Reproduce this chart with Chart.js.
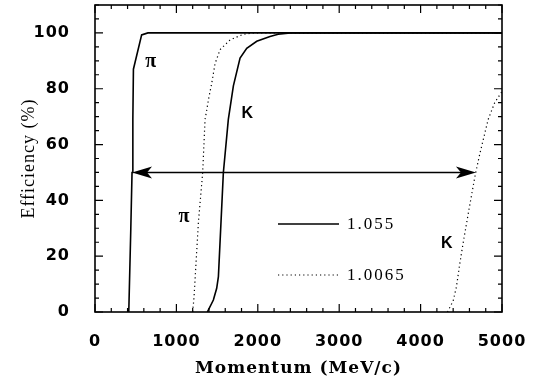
<!DOCTYPE html>
<html><head><meta charset="utf-8">
<script src="https://cdn.jsdelivr.net/npm/chart.js@4.4.1/dist/chart.umd.min.js"></script>
<style>html,body{margin:0;padding:0;background:#fff}canvas{display:block}</style>
</head><body>
<canvas id="c" width="535" height="385"></canvas>
<script>
// ---- data (momentum MeV/c, efficiency %) ----
const seriesNames = ['1.055', '1.0065'];
const piSolidP = [415, 440, 455, 465, 472, 573, 650, 5000];
const piSolidE = [0, 30, 50, 69, 87, 99.3, 100, 100];
const kSolidP = [1380, 1454, 1495, 1516, 1577, 1638, 1700, 1782, 1864, 1987, 2150, 2250, 2400, 5000];
const kSolidE = [0, 4.3, 8.5, 12.7, 50, 69, 81, 91, 94.5, 97, 98.7, 99.5, 100, 100];
const piDotP = [1200, 1217, 1229, 1270, 1323, 1352, 1373, 1393, 1434, 1475, 1536, 1660, 1820, 1950, 5000];
const piDotE = [0, 5.5, 11.5, 32, 50, 69, 72.4, 76, 82, 89, 94, 97.5, 99.5, 100, 100];
const kDotP = [4330, 4400, 4440, 4485, 4530, 4590, 4670, 4730, 4830, 4910, 5000];
const kDotE = [0, 4, 9, 18, 26, 36, 49, 57, 69, 75, 79];
const arrowP = [455, 4680];
const arrowE = 50;
const labelText = ['π', 'K', 'π', 'K'];
const labelP = [684, 1872, 1094, 4322];
const labelE = [89.5, 71.2, 34.2, 24.6];
const xTicks = [0, 1000, 2000, 3000, 4000, 5000];
const yTicks = [0, 20, 40, 60, 80, 100];

const pts = (P, E) => P.map((p, i) => ({x: p, y: E[i]}));

const solid = {borderColor: '#000', borderWidth: 1.6, pointRadius: 0, fill: false, tension: 0};
const dotted = {borderColor: '#000', borderWidth: 1.2, borderDash: [1.2, 3], pointRadius: 0, fill: false, tension: 0};

const spacing = {
  id: 'spacing',
  beforeDraw(chart) { chart.ctx.letterSpacing = '1px'; }
};

const deco = {
  id: 'deco',
  afterDatasetsDraw(chart) {
    const ctx = chart.ctx, xs = chart.scales.x, ys = chart.scales.y, a = chart.chartArea;
    ctx.save();
    ctx.strokeStyle = '#000'; ctx.fillStyle = '#000';
    ctx.lineWidth = 1.6;
    ctx.strokeRect(a.left, a.top, a.right - a.left, a.bottom - a.top);
    ctx.lineWidth = 1.2;
    ctx.beginPath();
    for (let v = 0; v <= 5000; v += 200) {
      const px = xs.getPixelForValue(v), L = v % 1000 === 0 ? 8 : 4;
      ctx.moveTo(px, a.bottom); ctx.lineTo(px, a.bottom - L);
      ctx.moveTo(px, a.top); ctx.lineTo(px, a.top + L);
    }
    for (let v = 0; v <= 110; v += 5) {
      const py = ys.getPixelForValue(v), L = v % 20 === 0 ? 8 : 4;
      ctx.moveTo(a.left, py); ctx.lineTo(a.left + L, py);
      ctx.moveTo(a.right, py); ctx.lineTo(a.right - L, py);
    }
    ctx.stroke();
    const y = ys.getPixelForValue(arrowE);
    const x1 = xs.getPixelForValue(arrowP[0]), x2 = xs.getPixelForValue(arrowP[1]);
    ctx.lineWidth = 1.4;
    ctx.beginPath(); ctx.moveTo(x1 + 10, y); ctx.lineTo(x2 - 10, y); ctx.stroke();
    const head = (tx, dir) => {
      ctx.beginPath();
      ctx.moveTo(tx, y);
      ctx.lineTo(tx + dir * 20, y - 6);
      ctx.lineTo(tx + dir * 15, y);
      ctx.lineTo(tx + dir * 20, y + 6);
      ctx.closePath(); ctx.fill();
    };
    head(x1, 1); head(x2, -1);
    ctx.textAlign = 'center'; ctx.textBaseline = 'middle';
    ctx.letterSpacing = '0px';
    labelText.forEach((t, i) => {
      ctx.font = t === 'π' ? 'bold 20px "Liberation Serif"' : 'bold 16px "Liberation Sans"';
      ctx.fillText(t, xs.getPixelForValue(labelP[i]), ys.getPixelForValue(labelE[i]));
    });
    const lx = a.left + 183, ly = [a.top + 219, a.top + 270];
    ctx.textAlign = 'left';
    ctx.font = '17px "Liberation Serif"';
    ctx.letterSpacing = '2px';
    chart.data.datasets.filter((d, i) => i % 2 === 0).forEach((d, i) => {
      ctx.lineWidth = d.borderWidth;
      ctx.setLineDash(d.borderDash || []);
      ctx.beginPath(); ctx.moveTo(lx, ly[i]); ctx.lineTo(lx + 61, ly[i]); ctx.stroke();
      ctx.setLineDash([]);
      ctx.fillText(seriesNames[i], lx + 69, ly[i] + 1);
    });
    ctx.restore();
  }
};

new Chart(document.getElementById('c'), {
  type: 'line',
  data: {
    datasets: [
      Object.assign({label: seriesNames[0] + ' π', data: pts(piSolidP, piSolidE)}, solid),
      Object.assign({label: seriesNames[0] + ' K', data: pts(kSolidP, kSolidE)}, solid),
      Object.assign({label: seriesNames[1] + ' π', data: pts(piDotP, piDotE)}, dotted),
      Object.assign({label: seriesNames[1] + ' K', data: pts(kDotP, kDotE)}, dotted)
    ]
  },
  options: {
    responsive: false, animation: false, devicePixelRatio: 1,
    layout: {autoPadding: false, padding: {top: 5, right: 33, left: 0, bottom: 0}},
    plugins: {legend: {display: false}, tooltip: {enabled: false}},
    scales: {
      x: {
        type: 'linear', min: 0, max: 5000,
        afterBuildTicks: s => { s.ticks = xTicks.map(v => ({value: v})); },
        afterFit: s => { s.height = 73; s.paddingLeft = 0; s.paddingRight = 0; s.paddingTop = 0; s.paddingBottom = 0; },
        grid: {display: false}, border: {display: false},
        ticks: {color: '#000', padding: 12, maxRotation: 0, callback: v => String(v),
                font: {family: 'DejaVu Sans', weight: 'bold', size: 16}},
        title: {display: true, text: 'Momentum (MeV/c)', color: '#000', padding: {top: 0, bottom: 6},
                font: {family: 'DejaVu Serif', weight: 'bold', size: 17}}
      },
      y: {
        type: 'linear', min: 0, max: 110,
        afterBuildTicks: s => { s.ticks = yTicks.map(v => ({value: v})); },
        afterFit: s => { s.width = 95; s.paddingTop = 0; s.paddingBottom = 0; s.paddingLeft = 0; s.paddingRight = 0; },
        grid: {display: false}, border: {display: false},
        ticks: {color: '#000', padding: 17, callback: v => String(v),
                font: {family: 'DejaVu Sans', weight: 'bold', size: 16}},
        title: {display: true, text: 'Efficiency (%)', color: '#000', padding: {top: 18, bottom: 0},
                font: {family: 'Liberation Serif', size: 18}}
      }
    }
  },
  plugins: [spacing, deco]
});
</script>
</body></html>
